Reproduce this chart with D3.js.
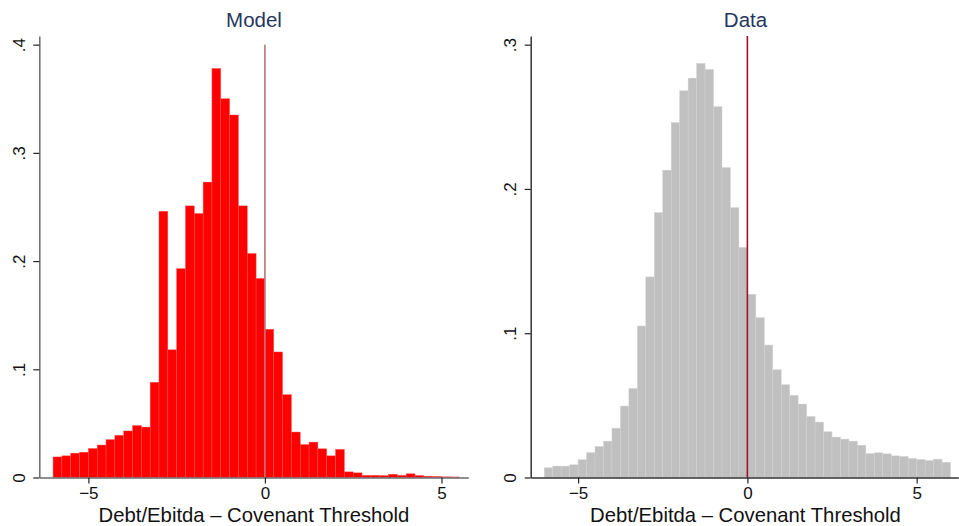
<!DOCTYPE html>
<html>
<head>
<meta charset="utf-8">
<script src="https://cdn.jsdelivr.net/npm/d3@7"></script>
<style>
  body { margin: 0; background: #fff; }
  svg text { font-family: "Liberation Sans", Arial, Helvetica, sans-serif; }
</style>
</head>
<body>
<div id="chart"></div>
<script>
// histogram bins: width 0.25, first bin starts at -6
var binStart = -6;
var binWidth = 0.25;

// Model panel densities (46 bins, -6 .. 5.5)
var modelDensity = [
  0.019, 0.020, 0.0225, 0.0234, 0.0268, 0.030, 0.035, 0.039, 0.043, 0.048,
  0.0466, 0.088, 0.246, 0.118, 0.193, 0.251, 0.244, 0.273, 0.378, 0.350,
  0.335, 0.251, 0.207, 0.184, 0.137, 0.116, 0.0765, 0.042, 0.0305, 0.0327,
  0.0265, 0.020, 0.026, 0.0052, 0.0043, 0.002, 0.002, 0.0018, 0.003, 0.002,
  0.0034, 0.0018, 0.0012, 0.001, 0.0006, 0.0005
];

// Data panel densities (48 bins, -6 .. 6)
var dataDensity = [
  0.0067, 0.0079, 0.0079, 0.0088, 0.0123, 0.0173, 0.0215, 0.0252, 0.0342, 0.0495,
  0.0617, 0.105, 0.139, 0.1836, 0.213, 0.246, 0.268, 0.2768, 0.287, 0.2828,
  0.257, 0.2148, 0.187, 0.1595, 0.127, 0.1108, 0.0918, 0.0747, 0.0643, 0.0569,
  0.0509, 0.0423, 0.0384, 0.0317, 0.028, 0.0266, 0.0252, 0.0224, 0.0166, 0.0171,
  0.0164, 0.015, 0.0146, 0.0132, 0.0125, 0.0118, 0.0127, 0.0106
];

var xTicks = [-5, 0, 5];
var xTickLabels = ["\u22125", "0", "5"];
var modelYTicks = [0, 0.1, 0.2, 0.3, 0.4];
var modelYLabels = ["0", ".1", ".2", ".3", ".4"];
var dataYTicks = [0, 0.1, 0.2, 0.3];
var dataYLabels = ["0", ".1", ".2", ".3"];
var threshold = 0;
var xTitle = "Debt/Ebitda \u2013 Covenant Threshold";

var svg = d3.select("#chart").append("svg")
  .attr("width", 959)
  .attr("height", 526);

svg.append("rect").attr("width", 959).attr("height", 526).attr("fill", "#fff");

function drawPanel(p) {
  var g = svg.append("g");

  var x = d3.scaleLinear().domain(p.xDomain).range(p.xRange);
  var y = d3.scaleLinear().domain(p.yDomain).range([477.5, 36]);

  var bins = p.values.map(function(v, i) {
    return { x0: binStart + i * binWidth, x1: binStart + (i + 1) * binWidth, v: v };
  });

  // bars
  g.selectAll("rect.bar")
    .data(bins)
    .enter()
    .append("rect")
    .attr("class", "bar")
    .attr("x", d => x(d.x0))
    .attr("y", d => y(d.v))
    .attr("width", d => x(d.x1) - x(d.x0))
    .attr("height", d => y(0) - y(d.v))
    .attr("fill", p.fill)
    .attr("stroke", p.stroke)
    .attr("stroke-width", 0.45);

  // vertical line at threshold
  g.append("line")
    .attr("x1", x(threshold)).attr("x2", x(threshold))
    .attr("y1", y(0)).attr("y2", y(p.lineTop))
    .attr("stroke", p.lineColor)
    .attr("stroke-width", 1.6);

  // x axis
  var xAxis = g.append("g")
    .attr("transform", `translate(0, ${y(0)})`)
    .call(d3.axisBottom(x).tickValues(xTicks).tickFormat((d, i) => xTickLabels[i]).tickSize(6).tickSizeOuter(0));
  xAxis.select(".domain").attr("stroke", p.axisColor).attr("stroke-width", 1.5);
  xAxis.selectAll(".tick line").attr("stroke", "#222").attr("stroke-width", 1.2);
  xAxis.selectAll(".tick text")
    .attr("y", 21.5).attr("dy", 0)
    .attr("font-size", 17).attr("fill", "#111");

  // y axis
  var yAxis = g.append("g")
    .attr("transform", `translate(${p.xRange[0]}, 0)`)
    .call(d3.axisLeft(y).tickValues(p.yTicks).tickFormat((d, i) => p.yLabels[i]).tickSize(6).tickSizeOuter(0));
  yAxis.select(".domain").attr("stroke", p.axisColor).attr("stroke-width", 1.5);
  yAxis.selectAll(".tick line").attr("stroke", "#222").attr("stroke-width", 1.2);
  yAxis.selectAll(".tick text")
    .attr("x", 0).attr("dy", 0)
    .attr("transform", "translate(-14.5, 0) rotate(-90)")
    .attr("text-anchor", "middle")
    .attr("font-size", 17).attr("fill", "#111");

  // titles
  g.append("text")
    .attr("x", p.center).attr("y", 26.5)
    .attr("text-anchor", "middle")
    .attr("font-size", 20.5)
    .attr("fill", "#25365f")
    .text(p.title);

  g.append("text")
    .attr("x", p.center).attr("y", 521.5)
    .attr("text-anchor", "middle")
    .attr("font-size", 20.3)
    .attr("fill", "#111")
    .text(xTitle);
}

drawPanel({
  title: "Model",
  values: modelDensity,
  xDomain: [-6.39, 5.76],
  xRange: [39.3, 468.3],
  yDomain: [0, 0.408],
  yTicks: modelYTicks,
  yLabels: modelYLabels,
  fill: "#ff0000",
  stroke: "#ff5252",
  lineColor: "#b47676",
  lineTop: 0.4,
  axisColor: "#6a6a6a",
  center: 254
});

drawPanel({
  title: "Data",
  values: dataDensity,
  xDomain: [-6.40, 6.23],
  xRange: [530.7, 958.3],
  yDomain: [0, 0.306],
  yTicks: dataYTicks,
  yLabels: dataYLabels,
  fill: "#c0c0c0",
  stroke: "#d2d2d2",
  lineColor: "#a0122e",
  lineTop: 0.306,
  axisColor: "#333",
  center: 745.5
});
</script>
</body>
</html>
